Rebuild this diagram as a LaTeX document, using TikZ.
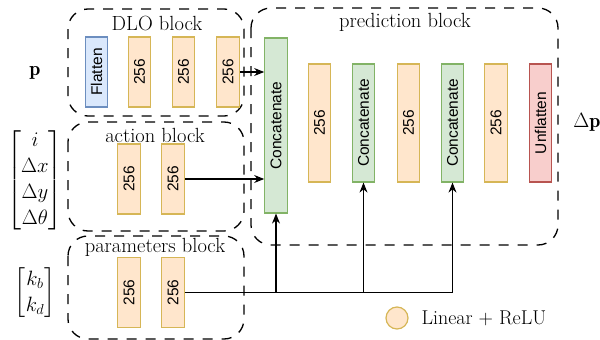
\documentclass[tikz,border=0pt]{standalone}
\usepackage{amsmath}
\usepackage{graphicx}
\usepackage{fontspec}
\newfontfamily\boxfont{Liberation Sans}
\usetikzlibrary{arrows.meta}

\definecolor{orfill}{HTML}{FFE6CC}\definecolor{ordraw}{HTML}{D6B656}
\definecolor{blfill}{HTML}{DAE8FC}\definecolor{bldraw}{HTML}{6C8EBF}
\definecolor{grfill}{HTML}{D5E8D4}\definecolor{grdraw}{HTML}{82B366}
\definecolor{rdfill}{HTML}{F8CECC}\definecolor{rddraw}{HTML}{B85450}

\tikzset{
  layer/.style={draw, line width=1.2pt, minimum width=22.5pt, inner sep=0pt,
    font=\boxfont\fontsize{15.5}{16}\selectfont},
  lin/.style={layer, fill=orfill, draw=ordraw, minimum height=70pt},
  linp/.style={layer, fill=orfill, draw=ordraw, minimum height=118pt},
  flat/.style={layer, fill=blfill, draw=bldraw, minimum height=70pt},
  cat/.style={layer, fill=grfill, draw=grdraw, minimum height=118pt},
  catbig/.style={layer, fill=grfill, draw=grdraw, minimum height=175pt},
  unflat/.style={layer, fill=rdfill, draw=rddraw, minimum height=118pt},
  group/.style={draw, dash pattern=on 10pt off 9pt, line width=1.3pt, rounded corners=20pt},
  title/.style={font=\fontsize{20.5}{22}\selectfont},
  vec/.style={font=\fontsize{20}{24}\selectfont},
  arr/.style={line width=1.2pt, -{Stealth[length=10pt,width=8pt]}},
  wire/.style={line width=1.2pt}
}

\begin{document}
\begin{tikzpicture}[x=1pt, y=-1pt]
\useasboundingbox (0,0) rectangle (600,340);

% dashed groupings
\draw[group] (68,9) rectangle (244,116);
\draw[group] (68,122) rectangle (244,231);
\draw[group] (68,236) rectangle (244,339);
\draw[group] (251,8) rectangle (558,245);

\node[title] (tdlo) at (157,23) {DLO block};
\node[title] (tact) at (155,135) {action block};
\node[title] (tpar) at (155,247) {parameters block};
\node[title] (tpred) at (405,22) {prediction block};

% DLO block
\node[flat] (fl) at (96.5,72) {\rotatebox{90}{Flatten}};
\node[lin] (d1) at (139.5,72) {\rotatebox{90}{256}};
\node[lin] (d2) at (183.5,72) {\rotatebox{90}{256}};
\node[lin] (d3) at (228,72) {\rotatebox{90}{256}};

% action block
\node[lin] (a1) at (129,179) {\rotatebox{90}{256}};
\node[lin] (a2) at (173,179) {\rotatebox{90}{256}};

% parameters block
\node[lin] (q1) at (129,292.5) {\rotatebox{90}{256}};
\node[lin] (q2) at (173,292.5) {\rotatebox{90}{256}};

% prediction block
\node[catbig] (c1) at (276,125.5) {\rotatebox{90}{Concatenate}};
\node[linp] (p1) at (319.5,123) {\rotatebox{90}{256}};
\node[cat] (c2) at (363.5,123) {\rotatebox{90}{Concatenate}};
\node[linp] (p2) at (408.5,123) {\rotatebox{90}{256}};
\node[cat] (c3) at (452.5,123) {\rotatebox{90}{Concatenate}};
\node[linp] (p3) at (496,123) {\rotatebox{90}{256}};
\node[unflat] (uf) at (540.5,123) {\rotatebox{90}{Unflatten}};

% inputs and output
\node[vec] (pin) at (35,73) {$\mathbf{p}$};
\node[vec] (ain) at (35,180) {$\renewcommand{\arraystretch}{1.08}\begin{bmatrix} i\\ \Delta x\\ \Delta y\\ \Delta\theta \end{bmatrix}$};
\node[vec] (kin) at (35,293) {$\renewcommand{\arraystretch}{1.08}\begin{bmatrix} k_b\\ k_d \end{bmatrix}$};
\node[vec] (pout) at (587,122) {$\Delta\mathbf{p}$};

% connections
\draw[arr] (d3) -- (d3 -| c1.west);
\draw[arr] (a2) -- (a2 -| c1.west);
\coordinate (j1) at (276,292.5);
\coordinate (j2) at (363.5,292.5);
\coordinate (j3) at (452.5,292.5);
\draw[wire] (q2) -- (j3);
\draw[arr] (j1) -- (c1);
\draw[arr] (j2) -- (c2);
\draw[arr] (j3) -- (c3);

% legend
\node[circle, draw=ordraw, fill=orfill, line width=1.2pt, minimum size=22pt, inner sep=0pt] (leg) at (397,318) {};
\node[anchor=west, font=\fontsize{20}{22}\selectfont] (legt) at (418,318) {Linear + ReLU};
\end{tikzpicture}
\end{document}
